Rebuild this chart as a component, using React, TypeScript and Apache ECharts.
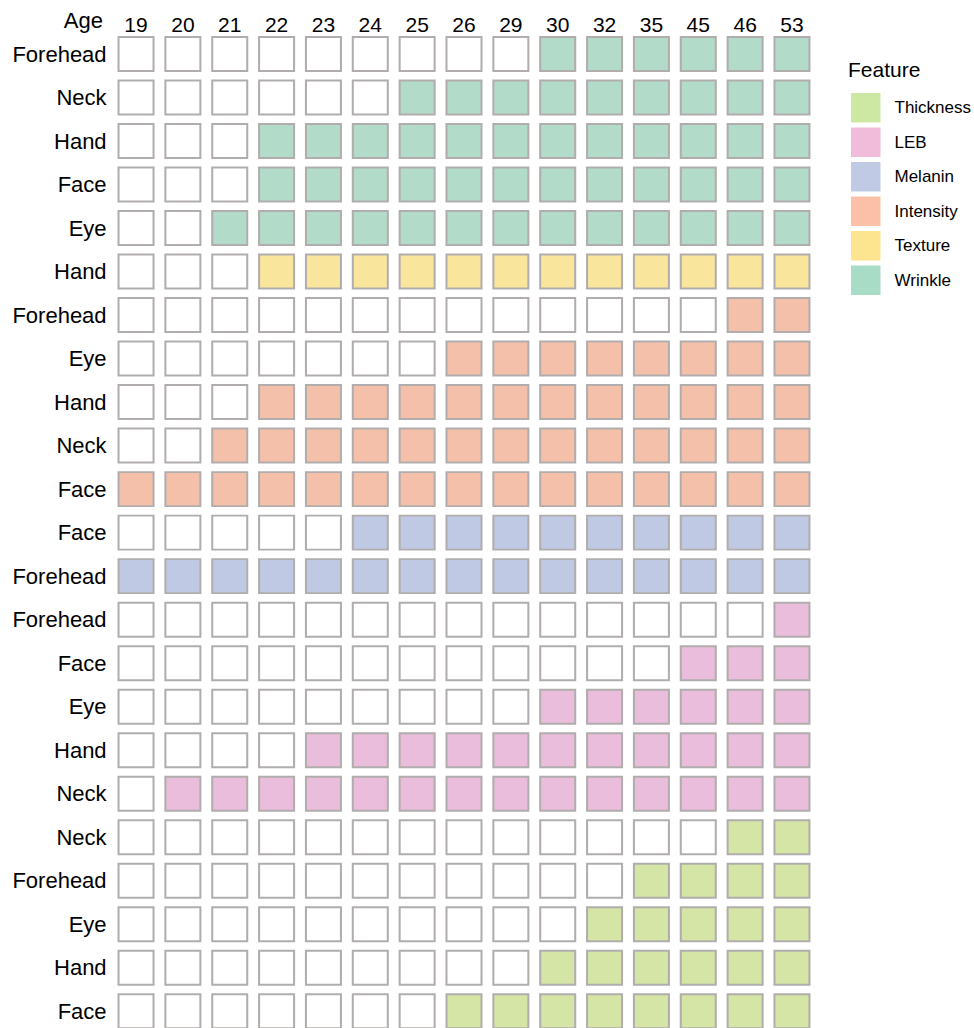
import React, { useEffect, useRef } from "react";
import * as echarts from "echarts";

const ages = ["19", "20", "21", "22", "23", "24", "25", "26", "29", "30", "32", "35", "45", "46", "53"];
const rowRegions = [
  "Forehead", "Neck", "Hand", "Face", "Eye", "Hand", "Forehead", "Eye", "Hand", "Neck", "Face", "Face",
  "Forehead", "Forehead", "Face", "Eye", "Hand", "Neck", "Neck", "Forehead", "Eye", "Hand", "Face",
];
const rowFeatures = [
  "Wrinkle", "Wrinkle", "Wrinkle", "Wrinkle", "Wrinkle", "Texture", "Intensity", "Intensity", "Intensity",
  "Intensity", "Intensity", "Melanin", "Melanin", "LEB", "LEB", "LEB", "LEB", "LEB", "Thickness",
  "Thickness", "Thickness", "Thickness", "Thickness",
];
// first age (column) at which the cell is filled, per row
const rowOnsetAge = [
  "30", "25", "22", "22", "21", "22", "46", "26", "22", "21", "19", "24", "19", "53", "45", "30", "23",
  "20", "46", "35", "32", "30", "26",
];
const features = ["Thickness", "LEB", "Melanin", "Intensity", "Texture", "Wrinkle"];
const cellColors = ["#d5e5a6", "#e9bddb", "#c0c9e3", "#f4c0aa", "#fae59c", "#b3dbca"];
const legendColors = ["#cce8a2", "#f0bcda", "#c1cae4", "#fcc0a8", "#fde590", "#a9dcc7"];

const FONT = "Liberation Sans, Arial, sans-serif";

export default function App() {
  const ref = useRef<HTMLDivElement>(null);
  useEffect(() => {
    if (!ref.current) return;
    const chart = echarts.init(ref.current, null, { renderer: "svg" });
    const filled: Record<string, number[][]> = {};
    features.forEach((f) => (filled[f] = []));
    const empty: number[][] = [];
    rowRegions.forEach((_, r) => {
      const onset = ages.indexOf(rowOnsetAge[r]);
      ages.forEach((_a, c) => {
        if (c >= onset) filled[rowFeatures[r]].push([c, r]);
        else empty.push([c, r]);
      });
    });
    const cellStyleBase = { borderColor: "#b1adad", borderWidth: 2, opacity: 1 };
    const series: any[] = [
      {
        name: "empty",
        type: "scatter",
        symbol: "rect",
        symbolSize: [35, 34],
        data: empty,
        itemStyle: { ...cellStyleBase, color: "#ffffff" },
        silent: true,
      },
      ...features.map((f, i) => ({
        name: f,
        type: "scatter",
        symbol: "rect",
        symbolSize: [35, 34],
        data: filled[f],
        itemStyle: { ...cellStyleBase, color: cellColors[i] },
      })),
    ];
    chart.setOption({
      animation: false,
      backgroundColor: "#ffffff",
      grid: { left: 112.6, right: 158.6, top: 32.25, bottom: 0 },
      xAxis: {
        type: "category",
        position: "top",
        data: ages,
        axisLine: { show: false },
        axisTick: { show: false },
        splitLine: { show: false },
        axisLabel: {
          interval: 0,
          margin: -2.5,
          fontSize: 21,
          color: "#000000",
          fontFamily: FONT,
        },
      },
      yAxis: {
        type: "category",
        inverse: true,
        data: rowRegions.map((_, i) => String(i)),
        axisLine: { show: false },
        axisTick: { show: false },
        splitLine: { show: false },
        axisLabel: {
          interval: 0,
          margin: 6,
          fontSize: 22,
          color: "#000000",
          fontFamily: FONT,
          formatter: (_v: string, i: number) => rowRegions[i],
        },
      },
      legend: {
        orient: "vertical",
        left: 851,
        top: 93,
        padding: 0,
        itemWidth: 29.5,
        itemHeight: 29.5,
        itemGap: 5,
        icon: "rect",
        selectedMode: false,
        data: features.map((f, i) => ({ name: f, itemStyle: { color: legendColors[i], borderWidth: 0 } })),
        textStyle: {
          fontSize: 17,
          color: "#000000",
          fontFamily: FONT,
          padding: [0, 0, 0, 9],
        },
      },
      graphic: [
        {
          type: "text",
          left: 848,
          top: 59,
          style: { text: "Feature", fontSize: 21, fill: "#000000", fontFamily: FONT },
        },
        {
          type: "text",
          right: 974 - 103,
          top: 9,
          style: { text: "Age", fontSize: 22, fill: "#000000", fontFamily: FONT },
        },
      ],
      series,
    });
    return () => chart.dispose();
  }, []);
  return (
    <div style={{ position: "absolute", left: 0, top: 0, width: 974, height: 1028, overflow: "hidden", background: "#fff" }}>
      <div ref={ref} style={{ width: 974, height: 1033 }} />
    </div>
  );
}
